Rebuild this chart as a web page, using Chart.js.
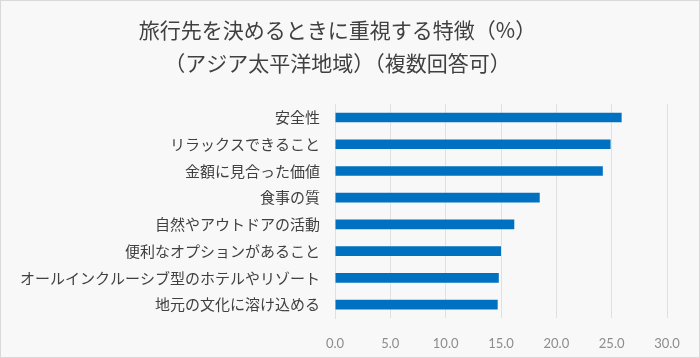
<!DOCTYPE html>
<html lang="ja">
<head>
<meta charset="UTF-8">
<title>旅行先を決めるときに重視する特徴</title>
<script src="https://cdn.jsdelivr.net/npm/chart.js"></script>
<style>
  html, body { margin: 0; padding: 0; background: #f8f8f8; }
  canvas { display: block; }
</style>
</head>
<body>
<canvas id="myChart" width="700" height="358"></canvas>
<script>
  // データ
  const titleLines = ['旅行先を決めるときに重視する特徴（%）', '（アジア太平洋地域）（複数回答可）'];
  const categories = [
    '安全性',
    'リラックスできること',
    '金額に見合った価値',
    '食事の質',
    '自然やアウトドアの活動',
    '便利なオプションがあること',
    'オールインクルーシブ型のホテルやリゾート',
    '地元の文化に溶け込める'
  ];
  const values = [25.9, 24.9, 24.2, 18.5, 16.2, 15.0, 14.8, 14.7];
  const xTicks = [0, 5, 10, 15, 20, 25, 30];

  const jpFont = '"Noto Sans CJK JP", "Noto Sans", sans-serif';

  // 背景と枠線
  const bgPlugin = {
    id: 'bg',
    beforeDraw(chart) {
      const c = chart.ctx;
      c.save();
      c.fillStyle = '#f8f8f8';
      c.fillRect(0, 0, chart.width, chart.height);
      c.strokeStyle = '#d9d9d9';
      c.lineWidth = 1;
      c.strokeRect(0.5, 0.5, chart.width - 1, chart.height - 1);
      c.restore();
    }
  };

  const ctx = document.getElementById('myChart').getContext('2d');
  const chart = new Chart(ctx, {
    type: 'bar',
    data: {
      labels: categories,
      datasets: [{
        data: values,
        backgroundColor: '#0070c0',
        borderWidth: 0,
        categoryPercentage: 1,
        barPercentage: 0.36
      }]
    },
    options: {
      indexAxis: 'y',
      responsive: false,
      animation: false,
      layout: { padding: { left: 8, right: 33, top: 0, bottom: 0 } },
      plugins: {
        legend: { display: false },
        tooltip: { enabled: false },
        title: {
          display: true,
          text: titleLines,
          color: '#404040',
          font: { family: jpFont, size: 21, weight: 'normal', lineHeight: 1.55 },
          padding: { top: 14, bottom: 25 }
        }
      },
      scales: {
        x: {
          min: 0,
          max: 30,
          afterBuildTicks: (scale) => { scale.ticks = xTicks.map(v => ({ value: v })); },
          afterFit: (scale) => { scale.height = 40; },
          ticks: {
            color: '#8c8c8c',
            padding: 18,
            font: { family: 'Lato, "Open Sans", sans-serif', size: 13 },
            callback: (v) => Number(v).toFixed(1)
          },
          grid: { color: '#e0e0e0', drawTicks: false },
          border: { display: false }
        },
        y: {
          afterFit: (scale) => { scale.width = 327; },
          ticks: {
            color: '#404040',
            padding: 15,
            font: { family: jpFont, size: 15 }
          },
          grid: { display: false, drawTicks: false },
          border: { display: true, color: '#e0e0e0' }
        }
      }
    },
    plugins: [bgPlugin]
  });
</script>
</body>
</html>
